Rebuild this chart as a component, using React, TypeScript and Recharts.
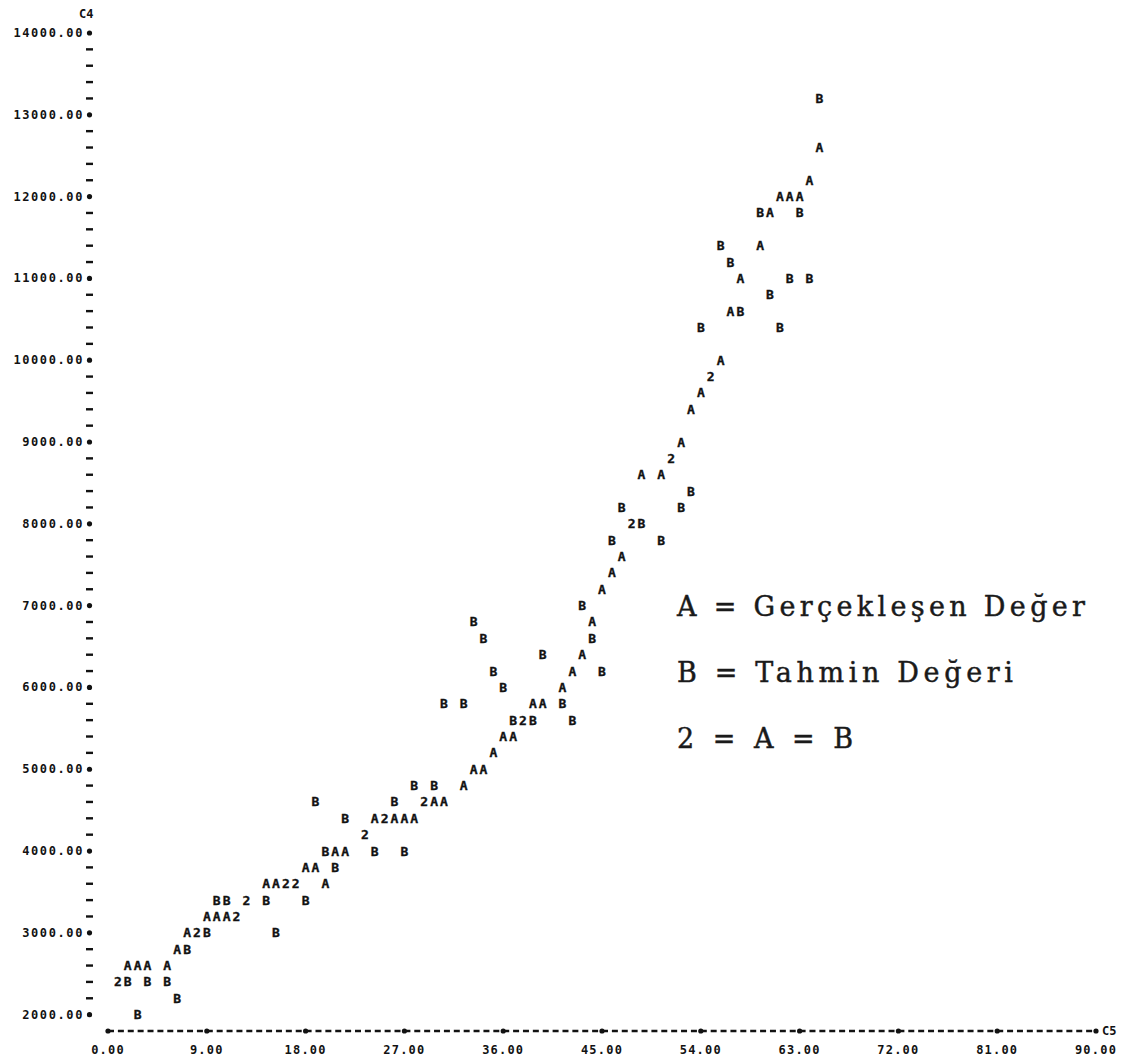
import React from 'react';
import { ScatterChart, Scatter, XAxis, YAxis, Customized } from 'recharts';

// Printed column position of each observation (x axis, C5)
const obsX = [
  0.9, 1.8, 2.7, 3.6, 5.4, 6.3, 7.2, 8.1, 9.0, 9.9,
  10.8, 11.7, 12.6, 14.4, 15.3, 16.2, 17.1, 18.0, 18.9, 19.8,
  20.7, 21.6, 23.4, 24.3, 25.2, 26.1, 27.0, 27.9, 28.8, 29.7,
  30.6, 32.4, 33.3, 34.2, 35.1, 36.0, 36.9, 37.8, 38.7, 39.6,
  41.4, 42.3, 43.2, 44.1, 45.0, 45.9, 46.8, 47.7, 48.6, 50.4,
  51.3, 52.2, 53.1, 54.0, 54.9, 55.8, 56.7, 57.6, 59.4, 60.3,
  61.2, 62.1, 63.0, 63.9, 64.8,
];

// A = Gerçekleşen Değer (actual)
const actual = [
  2400, 2600, 2600, 2600, 2600, 2800, 3000, 3000, 3200, 3200,
  3200, 3200, 3400, 3600, 3600, 3600, 3600, 3800, 3800, 3600,
  4000, 4000, 4200, 4400, 4400, 4400, 4400, 4400, 4600, 4600,
  4600, 4800, 5000, 5000, 5200, 5400, 5400, 5600, 5800, 5800,
  6000, 6200, 6400, 6800, 7200, 7400, 7600, 8000, 8600, 8600,
  8800, 9000, 9400, 9600, 9800, 10000, 10600, 11000, 11400, 11800,
  12000, 12000, 12000, 12200, 12600,
];

// B = Tahmin Değeri (predicted)
const predicted = [
  2400, 2400, 2000, 2400, 2400, 2200, 2800, 3000, 3000, 3400,
  3400, 3200, 3400, 3400, 3000, 3600, 3600, 3400, 4600, 4000,
  3800, 4400, 4200, 4000, 4400, 4600, 4000, 4800, 4600, 4800,
  5800, 5800, 6800, 6600, 6200, 6000, 5600, 5600, 5600, 6400,
  5800, 5600, 7000, 6600, 6200, 7800, 8200, 8000, 8000, 7800,
  8800, 8200, 8400, 10400, 9800, 11400, 11200, 10600, 11800, 10800,
  10400, 11000, 11800, 11000, 13200,
];

const xTicks = [0, 9, 18, 27, 36, 45, 54, 63, 72, 81, 90];
const yLabelTicks = [2000, 3000, 4000, 5000, 6000, 7000, 8000, 9000, 10000, 11000, 12000, 13000, 14000];
const legendLines = ['A = Gerçekleşen Değer', 'B = Tahmin Değeri', '2 = A = B'];
const legendWidths = [408, 336, 176];

const yTicks: number[] = [];
for (let v = 2000; v <= 14000; v += 200) yTicks.push(v);

const onlyA = obsX.map((x, i) => ({ x, y: actual[i] })).filter((_, i) => actual[i] !== predicted[i]);
const onlyB = obsX.map((x, i) => ({ x, y: predicted[i] })).filter((_, i) => actual[i] !== predicted[i]);
const both = obsX.map((x, i) => ({ x, y: actual[i] })).filter((_, i) => actual[i] === predicted[i]);

const INK = '#121212';
const PRINT = '"DejaVu Sans Mono", monospace';

const glyph = (ch: string) => (props: any) => (
  <text
    x={props.cx}
    y={props.cy}
    textAnchor="middle"
    dominantBaseline="central"
    fontFamily={PRINT}
    fontWeight="bold"
    fontSize={13}
    fill={INK}
    stroke={INK}
    strokeWidth={0.35}
  >
    {ch}
  </text>
);

const YTick = (props: any) => {
  const { x, y, payload } = props;
  const v = payload.value as number;
  if (yLabelTicks.includes(v)) {
    return (
      <g>
        <text
          x={x - 24}
          y={y}
          textAnchor="end"
          dominantBaseline="central"
          fontFamily={PRINT}
          fontWeight="bold"
          fontSize={12}
          letterSpacing={1.6}
          fill={INK}
        >
          {v.toFixed(2)}
        </text>
        <circle cx={x - 18.5} cy={y} r={2.6} fill={INK} />
      </g>
    );
  }
  return <rect x={x - 22} y={y - 1.2} width={7} height={2.4} fill={INK} />;
};

const XTick = (props: any) => {
  const { x, y, payload } = props;
  const v = payload.value as number;
  return (
    <g>
      <circle cx={x} cy={y} r={2.6} fill={INK} />
      <text
        x={x}
        y={y + 19}
        textAnchor="middle"
        dominantBaseline="central"
        fontFamily={PRINT}
        fontWeight="bold"
        fontSize={12}
        letterSpacing={1.2}
        fill={INK}
      >
        {v.toFixed(2)}
      </text>
    </g>
  );
};

const Extras = () => (
  <g>
    <text x={79} y={14} dominantBaseline="central" fontFamily={PRINT} fontWeight="bold" fontSize={12} fill={INK}>
      C4
    </text>
    <text x={1102} y={1031} dominantBaseline="central" fontFamily={PRINT} fontWeight="bold" fontSize={12} fill={INK}>
      C5
    </text>
    {legendLines.map((t, i) => (
      <text
        key={t}
        x={677}
        y={616 + i * 66}
        textLength={legendWidths[i]}
        lengthAdjust="spacing"
        fontFamily='"DejaVu Serif", "Liberation Serif", serif'
        fontSize={27}
        fill="#1a1a1a"
        stroke="#1a1a1a"
        strokeWidth={0.45}
      >
        {t}
      </text>
    ))}
  </g>
);

export default function App() {
  return (
    <div style={{ position: 'absolute', left: 0, top: 0, width: 1127, height: 1061, background: '#ffffff' }}>
      <ScatterChart width={1127} height={1061} margin={{ top: 33, right: 31, bottom: 0, left: 0 }}>
        <XAxis
          dataKey="x"
          type="number"
          domain={[0, 90]}
          ticks={xTicks}
          interval={0}
          height={30}
          tickSize={0}
          tickMargin={0}
          tickLine={false}
          axisLine={{ stroke: INK, strokeWidth: 2.4, strokeDasharray: '6 3.88' }}
          tick={<XTick />}
          allowDataOverflow
        />
        <YAxis
          dataKey="y"
          type="number"
          domain={[1800, 14000]}
          ticks={yTicks}
          interval={0}
          width={108}
          tickSize={0}
          tickMargin={0}
          tickLine={false}
          axisLine={false}
          tick={<YTick />}
          allowDataOverflow
        />
        <Scatter data={onlyA} shape={glyph('A')} isAnimationActive={false} />
        <Scatter data={onlyB} shape={glyph('B')} isAnimationActive={false} />
        <Scatter data={both} shape={glyph('2')} isAnimationActive={false} />
        <Customized component={Extras} />
      </ScatterChart>
    </div>
  );
}
